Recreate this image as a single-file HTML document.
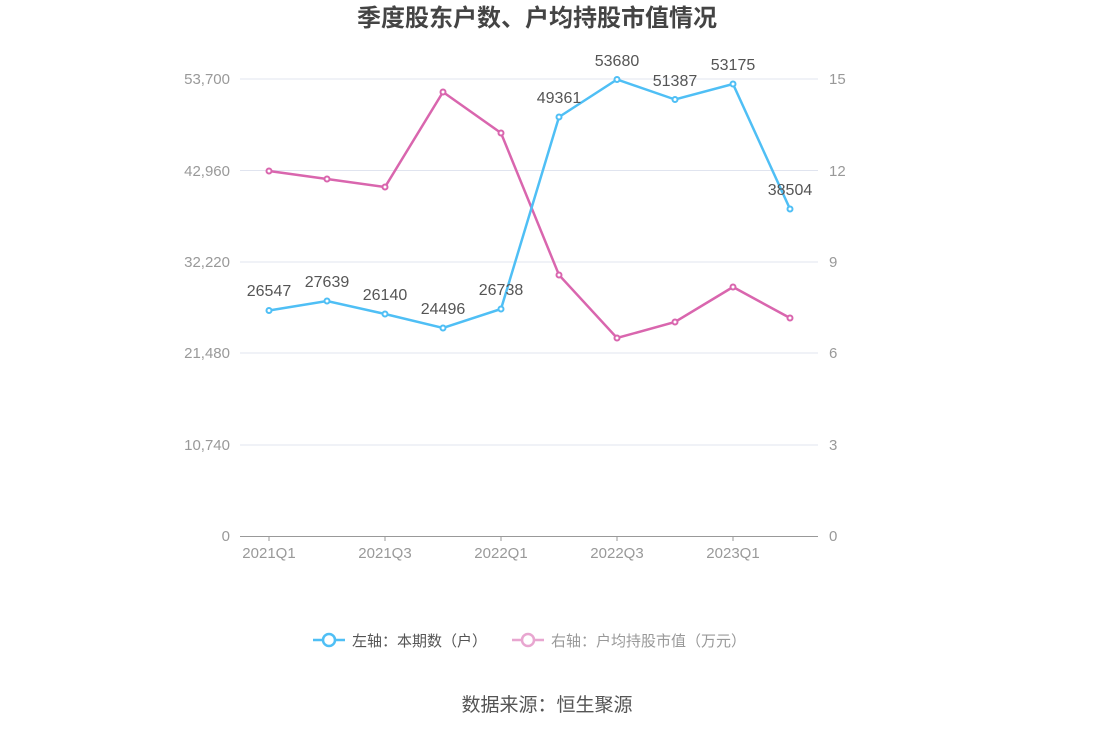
<!DOCTYPE html>
<html><head><meta charset="utf-8"><style>
body{margin:0;background:#fff;font-family:"Liberation Sans","Noto Sans CJK SC",sans-serif;}
</style></head><body>
<svg width="1094" height="730" xmlns="http://www.w3.org/2000/svg" font-family="Liberation Sans, Noto Sans CJK SC, sans-serif">
<text x="537" y="26" text-anchor="middle" font-size="24" font-weight="bold" fill="#444">季度股东户数、户均持股市值情况</text>
<g stroke="#e0e4ef" stroke-width="1">
<line x1="240" x2="818" y1="79" y2="79"/><line x1="240" x2="818" y1="170.5" y2="170.5"/><line x1="240" x2="818" y1="262" y2="262"/><line x1="240" x2="818" y1="353" y2="353"/><line x1="240" x2="818" y1="445" y2="445"/>
</g>
<line x1="240" x2="818" y1="536.5" y2="536.5" stroke="#999"/>
<g stroke="#999"><line x1="269" x2="269" y1="536" y2="541"/><line x1="385" x2="385" y1="536" y2="541"/><line x1="501" x2="501" y1="536" y2="541"/><line x1="617" x2="617" y1="536" y2="541"/><line x1="733" x2="733" y1="536" y2="541"/></g>
<g font-size="15" fill="#999" text-anchor="end">
<text x="230" y="84">53,700</text><text x="230" y="176">42,960</text><text x="230" y="267">32,220</text><text x="230" y="358">21,480</text><text x="230" y="450">10,740</text><text x="230" y="541">0</text>
</g>
<g font-size="15" fill="#999" text-anchor="start">
<text x="829" y="84">15</text><text x="829" y="176">12</text><text x="829" y="267">9</text><text x="829" y="358">6</text><text x="829" y="450">3</text><text x="829" y="541">0</text>
</g>
<g font-size="15" fill="#999" text-anchor="middle">
<text x="269" y="558">2021Q1</text><text x="385" y="558">2021Q3</text><text x="501" y="558">2022Q1</text><text x="617" y="558">2022Q3</text><text x="733" y="558">2023Q1</text>
</g>
<polyline fill="none" stroke="#d966ae" stroke-width="2.5" points="269,171 327,179 385,187 443,92 501,133 559,275 617,338 675,322 733,287 790,318"/>
<g fill="#fff" stroke="#d966ae" stroke-width="2"><circle cx="269" cy="171" r="2.5"/><circle cx="327" cy="179" r="2.5"/><circle cx="385" cy="187" r="2.5"/><circle cx="443" cy="92" r="2.5"/><circle cx="501" cy="133" r="2.5"/><circle cx="559" cy="275" r="2.5"/><circle cx="617" cy="338" r="2.5"/><circle cx="675" cy="322" r="2.5"/><circle cx="733" cy="287" r="2.5"/><circle cx="790" cy="318" r="2.5"/></g>
<polyline fill="none" stroke="#4fbff5" stroke-width="2.5" points="269,310.5 327,301 385,314 443,328 501,309 559,117 617,79.5 675,99.5 733,84 790,209"/>
<g fill="#fff" stroke="#4fbff5" stroke-width="2"><circle cx="269" cy="310.5" r="2.5"/><circle cx="327" cy="301" r="2.5"/><circle cx="385" cy="314" r="2.5"/><circle cx="443" cy="328" r="2.5"/><circle cx="501" cy="309" r="2.5"/><circle cx="559" cy="117" r="2.5"/><circle cx="617" cy="79.5" r="2.5"/><circle cx="675" cy="99.5" r="2.5"/><circle cx="733" cy="84" r="2.5"/><circle cx="790" cy="209" r="2.5"/></g>
<g font-size="16" fill="#555" text-anchor="middle">
<text x="269" y="296">26547</text><text x="327" y="287">27639</text><text x="385" y="300">26140</text><text x="443" y="314">24496</text><text x="501" y="295">26738</text><text x="559" y="103">49361</text><text x="617" y="66">53680</text><text x="675" y="86">51387</text><text x="733" y="70">53175</text><text x="790" y="195">38504</text>
</g>
<line x1="313" x2="345" y1="640" y2="640" stroke="#4fbff5" stroke-width="2.5"/><circle cx="329" cy="640" r="6" fill="#fff" stroke="#4fbff5" stroke-width="2.5"/>
<text x="352" y="646" font-size="15" fill="#555">左轴：本期数（户）</text>
<line x1="512" x2="544" y1="640" y2="640" stroke="#e8a6d0" stroke-width="2.5"/><circle cx="528" cy="640" r="6" fill="#fff" stroke="#e8a6d0" stroke-width="2.5"/>
<text x="551" y="646" font-size="15" fill="#999">右轴：户均持股市值（万元）</text>
<text x="547" y="711" text-anchor="middle" font-size="19" fill="#555">数据来源：恒生聚源</text>
</svg>
</body></html>
